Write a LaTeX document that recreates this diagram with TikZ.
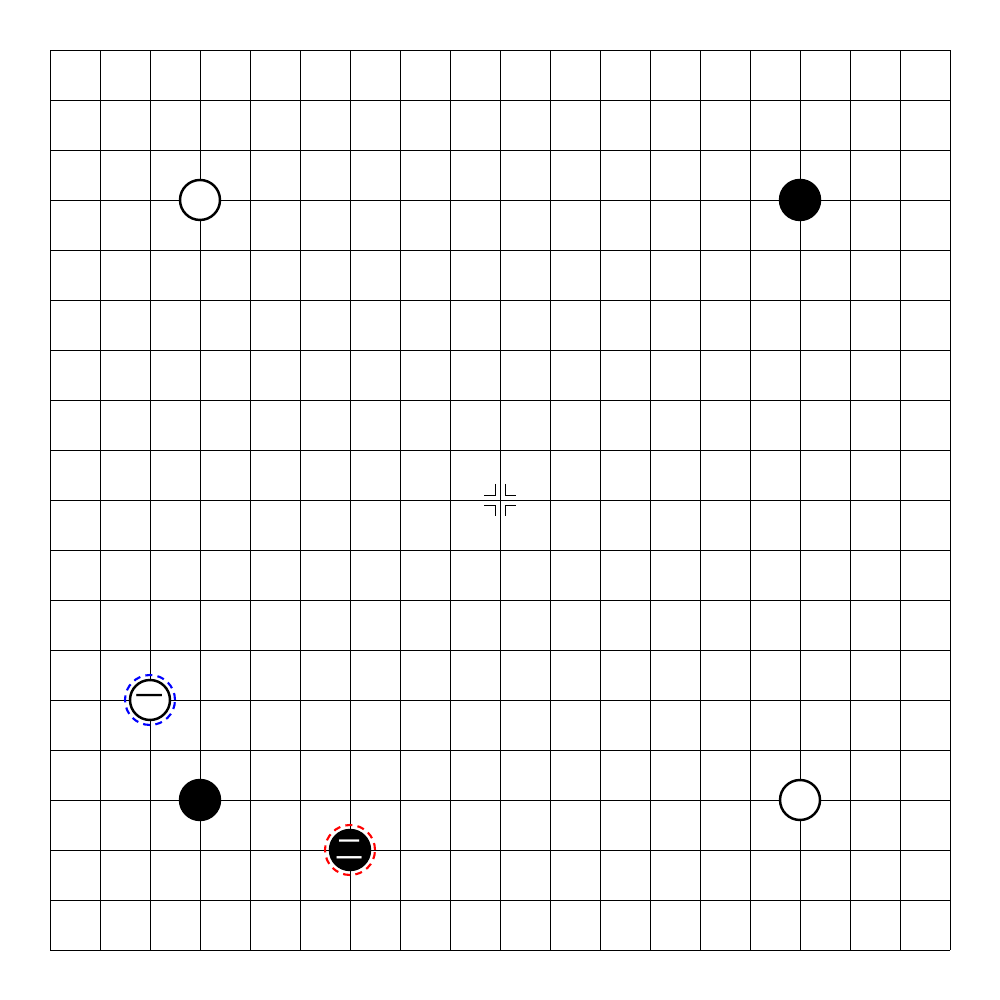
\documentclass[tikz,border=0pt]{standalone}
\usepackage{fontspec}
\newfontfamily\cjk{Noto Sans CJK SC}
\usepackage{tikz}

\begin{document}
\begin{tikzpicture}[
    x=0.5cm,y=0.5cm,
    grid/.style={line width=0.2pt,draw=black},
    stone/.style={circle,minimum size=0.4cm,inner sep=0pt,line width=0.7pt,
        font=\cjk\fontsize{8}{8}\selectfont},
    whitestone/.style={stone,draw=black,fill=white,text=black},
    blackstone/.style={stone,draw=black,fill=black,text=white},
    ring/.style={circle,minimum size=0.5cm,inner sep=0pt,dashed,line width=0.6pt,
        dash pattern=on 2pt off 1.5pt}
]
\useasboundingbox (0,0) rectangle (20,20);
% board
\foreach \i in {1,...,19} {
    \draw[grid] (\i,1) -- (\i,19);
    \draw[grid] (1,\i) -- (19,\i);
}
% centre mark
\coordinate (tengen) at (10,10);
\foreach \sx/\sy in {1/1,-1/1,1/-1,-1/-1} {
    \draw[grid] ([shift={(\sx*0.1,\sy*0.32)}]tengen) -- ([shift={(\sx*0.1,\sy*0.1)}]tengen)
        -- ([shift={(\sx*0.32,\sy*0.1)}]tengen);
}
% stones
\node[whitestone] (w1) at (4,16) {};
\node[blackstone] (b1) at (16,16) {};
\node[blackstone] (b2) at (4,4) {};
\node[whitestone] (w2) at (16,4) {};
\node[whitestone] (m1) at (3,6) {一};
\node[blackstone] (m2) at (7,3) {二};
% last moves
\node[ring,draw=blue] (r1) at (m1) {};
\node[ring,draw=red] (r2) at (m2) {};
\end{tikzpicture}
\end{document}
